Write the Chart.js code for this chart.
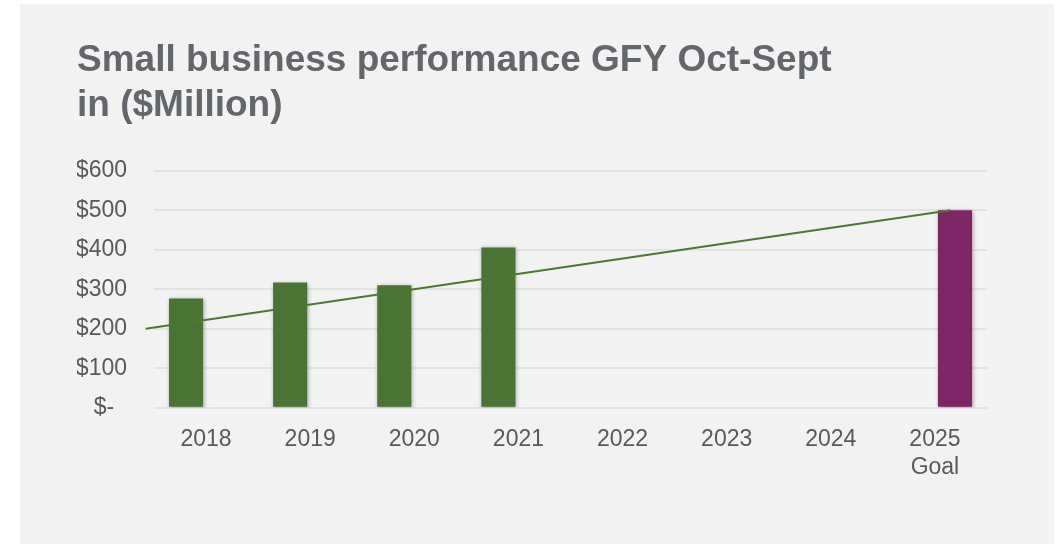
<!DOCTYPE html>
<html lang="en">
<head>
    <meta charset="UTF-8">
    <title>Small business performance</title>
    <script src="https://cdn.jsdelivr.net/npm/chart.js@4.4.0/dist/chart.umd.min.js"></script>
    <style>
        body {
            margin: 0;
            background-color: #ffffff;
            font-family: "Liberation Sans", Arial, sans-serif;
        }
        .panel {
            position: absolute;
            left: 20px;
            top: 4px;
            width: 1034px;
            height: 540px;
            background-color: #f2f2f2;
        }
    </style>
</head>
<body>
    <div class="panel">
        <canvas id="chart"></canvas>
    </div>

    <script>
        // Fiscal years
        const years = ['2018', '2019', '2020', '2021', '2022', '2023', '2024', ['2025', 'Goal']];
        // Actual small business spend ($M)
        const actual = [277, 317, 310, 406, null, null, null, null];
        // 2025 goal ($M)
        const goal = [null, null, null, null, null, null, null, 500];
        // trend line endpoints (x in category units, y in $M)
        const trendX = [-0.08, 7.65];
        const trendY = [200, 500];

        const yTicks = [0, 100, 200, 300, 400, 500, 600];

        const tickColor = '#595959';
        const fontFamily = '"Liberation Sans", Arial, sans-serif';

        // soft shadow under the bars
        const barShadow = {
            id: 'barShadow',
            beforeDatasetDraw(chart, args) {
                if (args.meta.type !== 'bar') return;
                const ctx = chart.ctx;
                ctx.save();
                ctx.shadowColor = 'rgba(0,0,0,0.35)';
                ctx.shadowBlur = 4;
                ctx.shadowOffsetX = 1;
                ctx.shadowOffsetY = 1;
            },
            afterDatasetDraw(chart, args) {
                if (args.meta.type !== 'bar') return;
                chart.ctx.restore();
            }
        };

        const ctx = document.getElementById('chart').getContext('2d');
        new Chart(ctx, {
            type: 'bar',
            data: {
                labels: years,
                datasets: [
                    {
                        type: 'line',
                        label: 'Trend',
                        data: trendX.map((x, i) => ({ x: x, y: trendY[i] })),
                        xAxisID: 'xLine',
                        borderColor: '#4a7a2e',
                        borderWidth: 2,
                        pointRadius: 0,
                        fill: false,
                        clip: false,
                        order: 0
                    },
                    {
                        label: 'Actual',
                        data: actual,
                        xAxisID: 'x',
                        backgroundColor: '#4a7433',
                        // this build halves the slot per category, so the percentage is doubled
                        categoryPercentage: 1.54,
                        barPercentage: 0.85,
                        order: 1
                    },
                    {
                        label: 'Goal',
                        data: goal,
                        xAxisID: 'x',
                        backgroundColor: '#7e2566',
                        categoryPercentage: 1.54,
                        barPercentage: 0.85,
                        order: 1
                    }
                ]
            },
            options: {
                responsive: true,
                maintainAspectRatio: false,
                animation: false,
                layout: {
                    padding: { left: 57, right: 67, top: 0, bottom: 53 }
                },
                plugins: {
                    legend: { display: false },
                    tooltip: { enabled: false },
                    title: {
                        display: true,
                        text: ['Small business performance GFY Oct-Sept', 'in ($Million)'],
                        align: 'start',
                        color: '#63666a',
                        font: { family: fontFamily, size: 37, weight: 'bold', lineHeight: 1.2 },
                        padding: { top: 35, bottom: 43 }
                    }
                },
                scales: {
                    x: {
                        grid: { display: false },
                        border: { display: false },
                        ticks: {
                            color: tickColor,
                            font: { family: fontFamily, size: 23 },
                            padding: 10,
                            maxRotation: 0
                        }
                    },
                    xLine: {
                        type: 'linear',
                        display: false,
                        offset: false,
                        min: 0,
                        max: 8
                    },
                    y: {
                        min: 0,
                        max: 600,
                        afterBuildTicks(axis) {
                            axis.ticks = yTicks.map(v => ({ value: v }));
                        },
                        afterFit(axis) {
                            axis.width = 77;
                        },
                        grid: { color: '#e3e3e3', lineWidth: 2, drawTicks: false },
                        border: { display: false },
                        ticks: {
                            color: tickColor,
                            font: { family: fontFamily, size: 23 },
                            padding: 27,
                            callback: v => v === 0 ? '$-  ' : '$' + v
                        }
                    }
                }
            },
            plugins: [barShadow]
        });
    </script>
</body>
</html>
